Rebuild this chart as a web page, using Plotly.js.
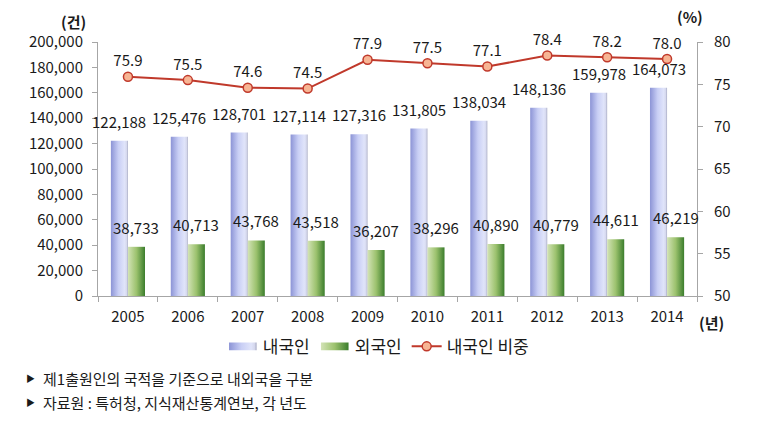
<!DOCTYPE html>
<html><head><meta charset="utf-8">
<script src="https://cdn.plot.ly/plotly-3.0.1.min.js"></script>
<style>body{margin:0;background:#fff}#chart{width:778px;height:425px}</style>
</head><body><div id="chart"></div>
<script>
const years = ['2005','2006','2007','2008','2009','2010','2011','2012','2013','2014'];
const domestic = [122188,125476,128701,127114,127316,131805,138034,148136,159978,164073];
const foreign = [38733,40713,43768,43518,36207,38296,40890,40779,44611,46219];
const domesticShare = [75.9,75.5,74.6,74.5,77.9,77.5,77.1,78.4,78.2,78.0];
const seriesNames = ['내국인','외국인','내국인 비중'];
const notes = ['제1출원인의 국적을 기준으로 내외국을 구분','자료원 : 특허청, 지식재산통계연보, 각 년도'];

const FONT = '"Noto Sans CJK KR", "Noto Sans", sans-serif';
const W = 778, H = 425, M = {l:98, r:81, t:42, b:129};
const BARGAP = 0.43;
const plotW = W - M.l - M.r;
const barPx = plotW / years.length * (1 - BARGAP) / 2;

const traces = [
  {type:'bar', name:seriesNames[0], x:years, y:domestic, marker:{color:'#bcc3f0'}},
  {type:'bar', name:seriesNames[1], x:years, y:foreign, marker:{color:'#8ab65e'}},
  {type:'scatter', mode:'lines+markers+text', name:seriesNames[2], x:years, y:domesticShare, yaxis:'y2',
   line:{color:'#c0392b',width:2}, marker:{size:9,color:'#f7b594',line:{color:'#c0392b',width:1.5}},
   text:domesticShare.map(v=>v.toFixed(1)), textposition:'top center', cliponaxis:false,
   textfont:{size:15,color:'#1a1a1a',family:FONT}}
];
const axisCommon = {showgrid:false, zeroline:false, showline:true, linecolor:'#a6a6a6', linewidth:1,
  ticks:'outside', ticklen:5, tickcolor:'#a6a6a6', tickfont:{size:15,color:'#1a1a1a',family:FONT}};
const lblFont = {size:15,family:FONT,color:'#1a1a1a'};
const annotations = [
  {text:'<b>(건)</b>', xref:'paper', yref:'paper', x:-0.017, y:1.079, xanchor:'right', yanchor:'middle', showarrow:false, font:lblFont},
  {text:'<b>(%)</b>', xref:'paper', yref:'paper', x:0.988, y:1.102, xanchor:'center', yanchor:'middle', showarrow:false, font:lblFont},
  {text:'<b>(년)</b>', xref:'paper', yref:'paper', x:1.0, y:-0.106, xanchor:'left', yanchor:'middle', showarrow:false, font:lblFont}
];
years.forEach((yr,i)=>{
  annotations.push({text:domestic[i].toLocaleString('en-US'), xref:'x', yref:'y', x:i, y:domestic[i], xshift:-barPx/2, yshift:7,
    xanchor:'center', yanchor:'bottom', showarrow:false, font:lblFont});
  annotations.push({text:foreign[i].toLocaleString('en-US'), xref:'x', yref:'y', x:i, y:foreign[i], xshift:barPx/2, yshift:7,
    xanchor:'center', yanchor:'bottom', showarrow:false, font:lblFont});
});
notes.forEach((t,i)=>{
  annotations.push({text:'▶', xref:'paper', yref:'paper', x:-0.113, y:-0.323-i*0.098, xanchor:'center', yanchor:'middle', showarrow:false, font:{size:9,family:FONT,color:'#1a1a1a'}});
  annotations.push({text:t, xref:'paper', yref:'paper', x:-0.095, y:-0.323-i*0.098, xanchor:'left', yanchor:'middle', showarrow:false, font:{size:15,family:FONT,color:'#1a1a1a'}});
});
const layout = {
  width:W, height:H, margin:M,
  paper_bgcolor:'#fff', plot_bgcolor:'#fff',
  font:{family:FONT,color:'#1a1a1a'},
  barmode:'group', bargap:BARGAP, bargroupgap:0,
  xaxis:Object.assign({}, axisCommon, {type:'category', range:[-0.5, years.length-0.5], tickson:'boundaries', ticklabelstandoff:7}),
  yaxis:Object.assign({}, axisCommon, {range:[0,200000], dtick:20000, tickformat:',', ticklabelstandoff:6}),
  yaxis2:Object.assign({}, axisCommon, {range:[50,80], dtick:5, overlaying:'y', side:'right', ticklabelstandoff:8}),
  showlegend:true,
  legend:{orientation:'h', x:0.468, xanchor:'center', y:-0.2, yanchor:'middle', font:{size:17,family:FONT,color:'#1a1a1a'}, itemwidth:30},
  annotations:annotations
};
Plotly.newPlot('chart', traces, layout, {displayModeBar:false, staticPlot:true}).then(gd=>{
  const svg = gd.querySelector('.main-svg');
  const ns = 'http://www.w3.org/2000/svg';
  const defs = document.createElementNS(ns,'defs');
  function grad(id, stops){
    const g = document.createElementNS(ns,'linearGradient');
    g.setAttribute('id',id); g.setAttribute('x1','0'); g.setAttribute('x2','1'); g.setAttribute('y1','0'); g.setAttribute('y2','0');
    stops.forEach(([o,c])=>{const s=document.createElementNS(ns,'stop'); s.setAttribute('offset',o); s.setAttribute('stop-color',c); g.appendChild(s);});
    defs.appendChild(g);
  }
  grad('gBlue',[[0,'#8c94d6'],[0.45,'#c9cff5'],[0.8,'#e0e4fa'],[0.92,'#d6d9ee'],[1,'#a8abc4']]);
  grad('gGreen',[[0,'#d3e3b6'],[0.5,'#9cc26e'],[1,'#3b7d2c']]);
  svg.insertBefore(defs, svg.firstChild);
  const ids = ['gBlue','gGreen'];
  gd.querySelectorAll('.barlayer .trace').forEach((tr,i)=>{
    tr.querySelectorAll('.point path').forEach(p=>{p.style.fill='url(#'+ids[i]+')';});
  });
  gd.querySelectorAll('.legend .traces').forEach((tr,i)=>{
    if(i<2){
      tr.querySelectorAll('.legendpoints path').forEach(p=>{
        p.style.fill='url(#'+ids[i]+')';
        const t = p.getAttribute('transform') || '';
        p.setAttribute('transform', t + ' scale(2.3,0.65)');
      });
    }
  });
});
</script></body></html>
